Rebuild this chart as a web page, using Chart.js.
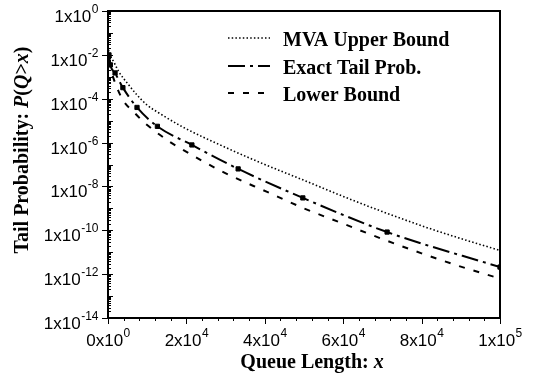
<!DOCTYPE html>
<html>
<head>
<meta charset="utf-8">
<script src="https://cdn.jsdelivr.net/npm/chart.js@4"></script>
<style>
  body { margin: 0; background: #fff; }
  canvas { display: block; }
</style>
</head>
<body>
<canvas id="tailChart" width="533" height="379"></canvas>
<script>
// values (x = queue length, y = tail probability)
const upperX = [0, 250, 1500, 2800, 4900, 7400, 10000, 13000, 19100, 30000, 40000, 50000, 60000, 70000, 80000, 90000, 100000];
const upperP = [2.5e-2, 1.35e-2, 4.7e-3, 1.66e-3, 5.2e-4, 1.48e-4, 5.1e-5, 2.24e-5, 5.1e-6, 6.0e-7, 1.0e-7, 1.9e-8, 3.5e-9, 7.1e-10, 1.6e-10, 4.2e-11, 1.2e-11];

const exactX = [250, 600, 1800, 3800, 7400, 12600, 21400, 33200, 49700, 71200, 100000];
const exactP = [1.0e-2, 3.5e-3, 1.5e-3, 3.2e-4, 4.0e-5, 5.5e-6, 7.8e-7, 6.3e-8, 3.0e-9, 8.3e-11, 2.1e-12];

const lowerX = [0, 2000, 3800, 6600, 9400, 12300, 15800, 18400, 29300, 40600, 50000, 60000, 70000, 80000, 90000, 100000];
const lowerP = [5.0e-3, 4.3e-4, 8.7e-5, 2.45e-5, 7.8e-6, 3.0e-6, 1.07e-6, 5.6e-7, 4.6e-8, 5.6e-9, 1.0e-9, 2.0e-10, 4.0e-11, 8.9e-12, 2.2e-12, 6.3e-13];

const seriesNames = ["MVA Upper Bound", "Exact Tail Prob.", "Lower Bound"];

// tick labels: mantissa x 10^exponent
const yTickExps = [0, -2, -4, -6, -8, -10, -12, -14];
const xTickValues = [0, 20000, 40000, 60000, 80000, 100000];
const xTickLabels = [["0", "0"], ["2", "4"], ["4", "4"], ["6", "4"], ["8", "4"], ["1", "5"]];

const dashes = [[1.5, 2.2], [17, 5, 3, 5], [6, 9]];
const widths = [1.6, 2, 2];

function pts(xs, ys) {
  return xs.map((x, i) => ({ x: x, y: ys[i] }));
}

// text made of several runs with different fonts
function richWidth(ctx, parts) {
  let w = 0;
  parts.forEach(p => { ctx.font = p[1]; w += ctx.measureText(p[0]).width; });
  return w;
}
function drawRich(ctx, parts, x, y) {
  let cx = x;
  parts.forEach(p => {
    ctx.font = p[1];
    ctx.fillText(p[0], cx, y);
    cx += ctx.measureText(p[0]).width;
  });
}

const SERIF_B = 'bold 20px "Liberation Serif"';
const SERIF_BI = 'italic bold 20px "Liberation Serif"';
const SANS = '17px "Liberation Sans"';
const SANS_SUP = '12px "Liberation Sans"';

const decor = {
  id: "decor",
  afterDraw(chart) {
    const ctx = chart.ctx;
    const a = chart.chartArea;
    const xs = chart.scales.x;
    const ys = chart.scales.y;
    ctx.save();
    ctx.setLineDash([]);
    ctx.strokeStyle = "#000";
    ctx.fillStyle = "#000";

    // frame
    ctx.lineWidth = 2;
    ctx.strokeRect(a.left, a.top, a.right - a.left, a.bottom - a.top);

    // y ticks
    ctx.lineWidth = 1;
    ctx.beginPath();
    for (let n = 0; n >= -14; n--) {
      const py = Math.round(ys.getPixelForValue(Math.pow(10, n))) + 0.5;
      if (n % 2 === 0) {
        ctx.moveTo(a.left - 6, py); ctx.lineTo(a.left + 5, py);
      } else {
        ctx.moveTo(a.left, py); ctx.lineTo(a.left + 5, py);
      }
      if (n > -14) {
        for (let k = 2; k <= 9; k++) {
          const my = Math.round(ys.getPixelForValue(k * Math.pow(10, n - 1))) + 0.5;
          ctx.moveTo(a.left, my); ctx.lineTo(a.left + 3, my);
        }
      }
    }
    // x ticks
    for (let v = 0; v <= 100000; v += 4000) {
      const px = Math.round(xs.getPixelForValue(v)) + 0.5;
      ctx.moveTo(px, a.bottom);
      ctx.lineTo(px, a.bottom + (v % 20000 === 0 ? 6 : 3));
    }
    ctx.stroke();

    // y tick labels
    ctx.textBaseline = "alphabetic";
    yTickExps.forEach(e => {
      const py = ys.getPixelForValue(Math.pow(10, e));
      const base = "1x10", sup = String(e);
      ctx.font = SANS; const bw = ctx.measureText(base).width;
      ctx.font = SANS_SUP; const sw = ctx.measureText(sup).width;
      const left = a.left - 10 - bw - sw;
      ctx.font = SANS; ctx.fillText(base, left, py + 11);
      ctx.font = SANS_SUP; ctx.fillText(sup, left + bw + 0.5, py + 2);
    });

    // x tick labels
    xTickValues.forEach((v, i) => {
      const px = xs.getPixelForValue(v);
      const base = xTickLabels[i][0] + "x10", sup = xTickLabels[i][1];
      ctx.font = SANS; const bw = ctx.measureText(base).width;
      ctx.font = SANS_SUP; const sw = ctx.measureText(sup).width;
      const left = px - (bw + sw) / 2;
      ctx.font = SANS; ctx.fillText(base, left, a.bottom + 28);
      ctx.font = SANS_SUP; ctx.fillText(sup, left + bw + 0.5, a.bottom + 19);
    });

    // axis titles
    const xTitle = [["Queue Length: ", SERIF_B], ["x", SERIF_BI]];
    drawRich(ctx, xTitle, 312 - richWidth(ctx, xTitle) / 2, 368);

    const yTitle = [["Tail Probability: ", SERIF_B], ["P", SERIF_BI], ["(", SERIF_B], ["Q", SERIF_BI], [">", SERIF_B], ["x", SERIF_BI], [")", SERIF_B]];
    ctx.save();
    ctx.translate(28, 150);
    ctx.rotate(-Math.PI / 2);
    drawRich(ctx, yTitle, -richWidth(ctx, yTitle) / 2, 0);
    ctx.restore();

    // legend inside the plot
    const rows = [38, 66, 93];
    seriesNames.forEach((name, i) => {
      ctx.save();
      ctx.lineWidth = widths[i];
      ctx.setLineDash(dashes[i]);
      ctx.beginPath();
      ctx.moveTo(228, rows[i]);
      ctx.lineTo(270, rows[i]);
      ctx.stroke();
      ctx.restore();
      ctx.font = SERIF_B;
      ctx.fillText(name, 283, rows[i] + 8);
    });

    ctx.restore();
  }
};

const ctx = document.getElementById("tailChart").getContext("2d");
new Chart(ctx, {
  type: "line",
  data: {
    datasets: [
      {
        label: seriesNames[0],
        data: pts(upperX, upperP),
        borderColor: "#000",
        borderWidth: widths[0],
        borderDash: dashes[0],
        pointRadius: 0,
        cubicInterpolationMode: "monotone",
        fill: false,
      },
      {
        label: seriesNames[1],
        data: pts(exactX, exactP),
        borderColor: "#000",
        borderWidth: widths[1],
        borderDash: dashes[1],
        pointRadius: 3,
        pointStyle: "rect",
        pointBackgroundColor: "#000",
        pointBorderColor: "#000",
        pointBorderWidth: 1,
        cubicInterpolationMode: "monotone",
        fill: false,
      },
      {
        label: seriesNames[2],
        data: pts(lowerX, lowerP),
        borderColor: "#000",
        borderWidth: widths[2],
        borderDash: dashes[2],
        pointRadius: 0,
        cubicInterpolationMode: "monotone",
        fill: false,
      },
    ],
  },
  options: {
    responsive: false,
    animation: false,
    devicePixelRatio: 1,
    layout: { padding: { top: 11, right: 33, left: 0, bottom: 0 } },
    plugins: {
      legend: { display: false },
      tooltip: { enabled: false },
    },
    scales: {
      x: {
        type: "linear",
        min: 0,
        max: 100000,
        ticks: { display: false },
        grid: { display: false },
        border: { display: false },
        afterFit: function (scale) { scale.height = 61; },
      },
      y: {
        type: "logarithmic",
        min: 1e-14,
        max: 1,
        ticks: { display: false },
        grid: { display: false },
        border: { display: false },
        afterFit: function (scale) { scale.width = 108; },
      },
    },
  },
  plugins: [decor],
});
</script>
</body>
</html>
